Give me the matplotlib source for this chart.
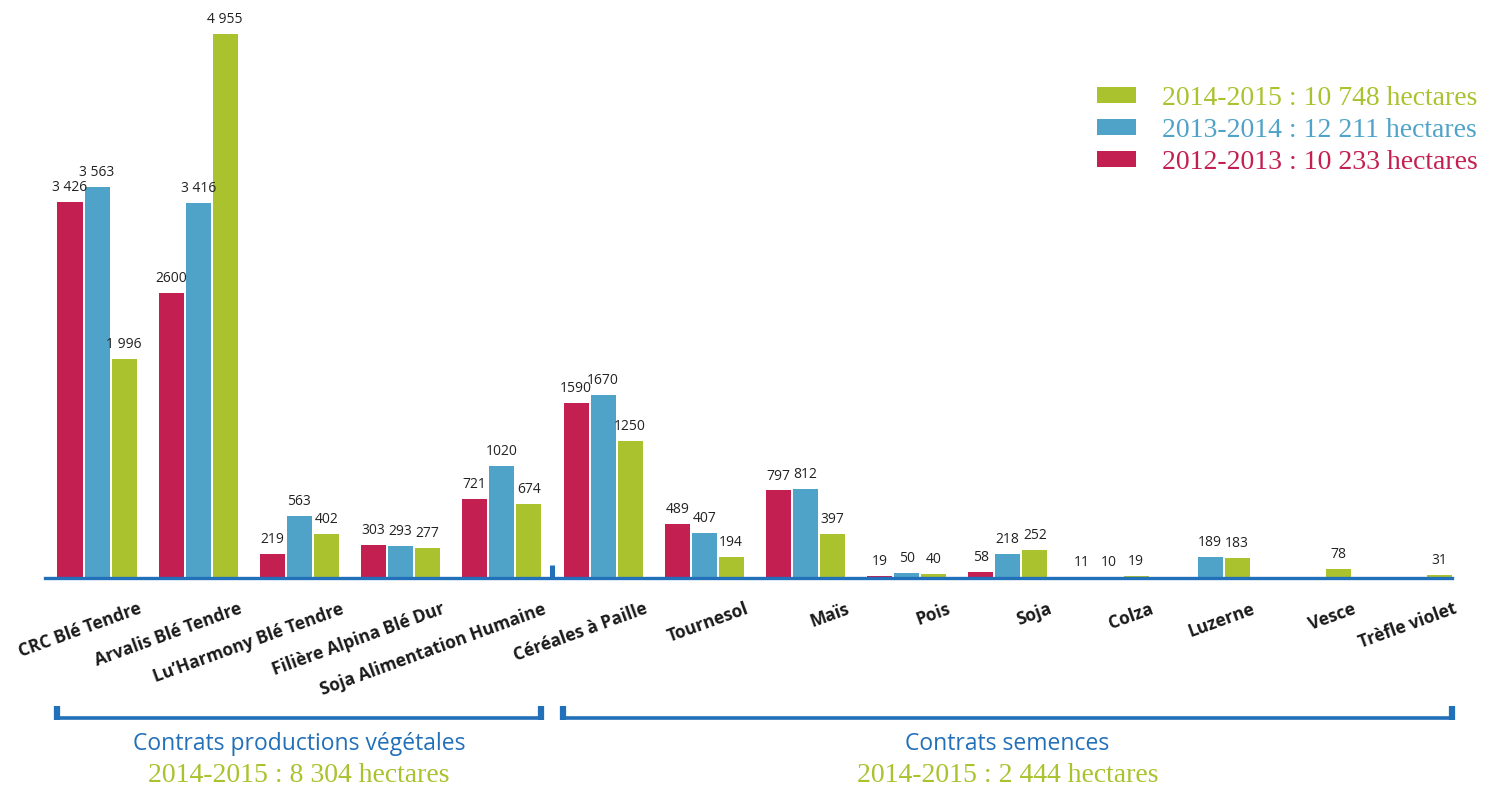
import matplotlib
matplotlib.use("Agg")
import matplotlib.pyplot as plt
from matplotlib.patches import Patch
from matplotlib.transforms import blended_transform_factory, offset_copy
import numpy as np

# ---------------- data ----------------
categories = ["CRC Blé Tendre", "Arvalis Blé Tendre", "Lu’Harmony Blé Tendre",
              "Filière Alpina Blé Dur", "Soja Alimentation Humaine",
              "Céréales à Paille", "Tournesol", "Maïs", "Pois", "Soja",
              "Colza", "Luzerne", "Vesce", "Trèfle violet"]
v_2012 = [3426, 2600, 219, 303, 721, 1590, 489, 797, 19, 58, 11, None, None, None]
v_2013 = [3563, 3416, 563, 293, 1020, 1670, 407, 812, 50, 218, 10, 189, None, None]
v_2014 = [1996, 4955, 402, 277, 674, 1250, 194, 397, 40, 252, 19, 183, 78, 31]
lbl_2012 = ["3 426", "2600", "219", "303", "721", "1590", "489", "797", "19", "58", "11", "", "", ""]
lbl_2013 = ["3 563", "3 416", "563", "293", "1020", "1670", "407", "812", "50", "218", "10", "189", "", ""]
lbl_2014 = ["1 996", "4 955", "402", "277", "674", "1250", "194", "397", "40", "252", "19", "183", "78", "31"]
legend_labels = ["2014-2015 : 10 748 hectares", "2013-2014 : 12 211 hectares",
                 "2012-2013 : 10 233 hectares"]
group_titles = ["Contrats productions végétales", "Contrats semences"]
group_totals = ["2014-2015 : 8 304 hectares", "2014-2015 : 2 444 hectares"]
n_first_group = 5

RED = "#c41f51"
BLUE = "#50a3c8"
GREEN = "#abc22f"
AXBLUE = "#2270b9"
SANS = "Open Sans"
SERIF = "Liberation Serif"

W, H = 1500, 787
fig = plt.figure(figsize=(W / 100, H / 100), dpi=100)
# axes placement in pixels
ax_left, ax_right = 45, 1452
ax_bottom, ax_top = 578, 20
ax = fig.add_axes([ax_left / W, (H - ax_bottom) / H,
                   (ax_right - ax_left) / W, (ax_bottom - ax_top) / H])

spacing = 101.2
x0px = 97
ax.set_xlim((ax_left - x0px) / spacing, (ax_right - x0px) / spacing)
ax.set_ylim(0, (ax_bottom - ax_top) / 0.1098)

x = np.arange(len(categories))
bw = 25 / spacing
off = 27 / spacing

series = [(v_2012, lbl_2012, RED, -off), (v_2013, lbl_2013, BLUE, 0.0), (v_2014, lbl_2014, GREEN, off)]
for vals, lbls, col, dx in series:
    xs = [xi + dx for xi, v in zip(x, vals) if v is not None]
    hs = [v for v in vals if v is not None]
    ls = [l for l, v in zip(lbls, vals) if v is not None]
    bars = ax.bar(xs, hs, width=bw, color=col, linewidth=0, zorder=2)
    for b, l in zip(bars, ls):
        ax.annotate(l, (b.get_x() + b.get_width() / 2, b.get_height()),
                    xytext=(0, 5), textcoords="offset points", ha="center", va="bottom",
                    fontsize=10, family=SANS, color="#222222")

for s in ["top", "right", "left"]:
    ax.spines[s].set_visible(False)
ax.spines["bottom"].set_color(AXBLUE)
ax.spines["bottom"].set_linewidth(2.4)
ax.spines["bottom"].set_zorder(3)
ax.set_yticks([])
ax.set_xticks([])

# separator tick between groups
sep = n_first_group - 0.5
ax.plot([sep, sep], [0, 13 / 0.1098], color=AXBLUE, lw=3.6, solid_capstyle="butt", zorder=3)

# category labels
for xi, c in zip(x, categories):
    t = offset_copy(ax.transData, fig=fig, x=0, y=-22, units="dots")
    ax.text(xi + 0.4, 0, c, transform=t, rotation=20, rotation_mode="anchor",
            ha="right", va="top", fontsize=12.5, fontweight="bold", family=SANS,
            color="#1a1a1a")

# brackets
bt = blended_transform_factory(ax.transData, fig.transFigure)
def fy(py):
    return (H - py) / H
brackets = [((57 - x0px) / spacing, (541 - x0px) / spacing),
            ((563 - x0px) / spacing, (1452 - x0px) / spacing)]
for (a, b), title, total in zip(brackets, group_titles, group_totals):
    ax.plot([a, b], [fy(718), fy(718)], transform=bt, color=AXBLUE, lw=2.6,
            clip_on=False, solid_capstyle="butt")
    for e in (a, b):
        ax.plot([e, e], [fy(706), fy(720)], transform=bt, color=AXBLUE, lw=4.5,
                clip_on=False, solid_capstyle="butt")
    cx = (a + b) / 2
    ax.text(cx, fy(744), title, transform=bt, ha="center", va="center",
            fontsize=16.5, family=SANS, color=AXBLUE)
    ax.text(cx, fy(775), total, transform=bt, ha="center", va="center",
            fontsize=20, family=SERIF, color=GREEN)

# legend
handles = [Patch(facecolor=GREEN), Patch(facecolor=BLUE), Patch(facecolor=RED)]
leg = fig.legend(handles, legend_labels, loc="upper left",
                 bbox_to_anchor=(1097 / W, 1 - 86 / H), frameon=False,
                 prop={"family": SERIF, "size": 20}, handlelength=1.4,
                 handleheight=0.5, handletextpad=0.95, labelspacing=0.25,
                 borderaxespad=0, borderpad=0)
for txt, col in zip(leg.get_texts(), [GREEN, BLUE, RED]):
    txt.set_color(col)

fig.savefig("out.png", dpi=100)
